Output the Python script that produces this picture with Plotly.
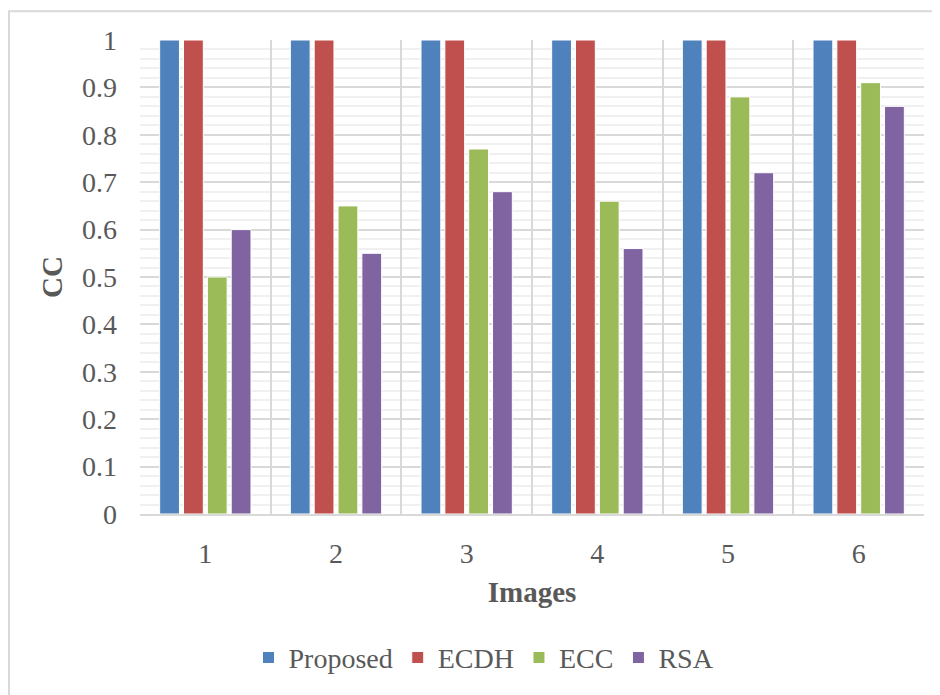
import plotly.graph_objects as go

categories = ["1", "2", "3", "4", "5", "6"]
proposed = [1, 1, 1, 1, 1, 1]
ecdh = [1, 1, 1, 1, 1, 1]
ecc = [0.50, 0.65, 0.77, 0.66, 0.88, 0.91]
rsa = [0.60, 0.55, 0.68, 0.56, 0.72, 0.86]
y_ticks = [0, 0.1, 0.2, 0.3, 0.4, 0.5, 0.6, 0.7, 0.8, 0.9, 1]
y_tick_labels = ["0", "0.1", "0.2", "0.3", "0.4", "0.5", "0.6", "0.7", "0.8", "0.9", "1"]

series = [
    ("Proposed", proposed, "#4F81BD"),
    ("ECDH", ecdh, "#C0504D"),
    ("ECC", ecc, "#9BBB59"),
    ("RSA", rsa, "#8064A2"),
]

FONT = "Liberation Serif"
GRAY = "#595959"

fig = go.Figure()
for name, vals, color in series:
    fig.add_trace(go.Bar(
        x=categories, y=vals, name=name,
        marker=dict(color=color, line=dict(color="white", width=1)),
    ))

OFF = 8  # page body margin
W, H = 940 - OFF, 695 - OFF
ml, mr, mt, mb = 140 - OFF, 16, 40 - OFF, 177
pw = W - ml - mr
ph = H - mt - mb

def px_x(x):
    return (x - OFF - ml) / pw

def px_y(y):
    return (H - mb - (y - OFF)) / ph

fig.update_layout(
    width=W, height=H,
    margin=dict(l=ml, r=mr, t=mt, b=mb),
    paper_bgcolor="white", plot_bgcolor="white",
    barmode="group", bargap=0.27, bargroupgap=0.17,
    font=dict(family=FONT, color=GRAY, size=28),
    showlegend=True,
    legend=dict(
        orientation="h", x=px_x(484), xanchor="center",
        y=px_y(663), yanchor="middle",
        font=dict(family=FONT, size=28, color=GRAY),
        bgcolor="rgba(0,0,0,0)",
    ),
    xaxis=dict(
        type="category", tickson="boundaries",
        showgrid=True, gridcolor="#D9D9D9", gridwidth=1.5,
        showline=True, linecolor="#D9D9D9", linewidth=2,
        ticks="", ticklabelstandoff=13,
        tickfont=dict(family=FONT, size=28, color=GRAY),
        title=dict(text="<b>Images</b>", standoff=14,
                   font=dict(family=FONT, size=29, color=GRAY)),
    ),
    yaxis=dict(
        range=[0, 1], tickvals=y_ticks, ticktext=y_tick_labels,
        showgrid=True, gridcolor="#D9D9D9", gridwidth=1.5,
        zeroline=False, showline=False, ticks="",
        ticklabelstandoff=22,
        tickfont=dict(family=FONT, size=28, color=GRAY),
        minor=dict(dtick=0.02, showgrid=True, gridcolor="#F0F0F0", gridwidth=1.5),
        title=dict(text="<b>CC</b>", standoff=10,
                   font=dict(family=FONT, size=29, color=GRAY)),
    ),
    shapes=[
        dict(type="rect", xref="paper", yref="paper",
             x0=px_x(9), x1=px_x(960), y0=px_y(720), y1=px_y(11),
             line=dict(color="#D9D9D9", width=2), fillcolor="rgba(0,0,0,0)",
             layer="below"),
    ],
)

fig.write_html("out.html")
